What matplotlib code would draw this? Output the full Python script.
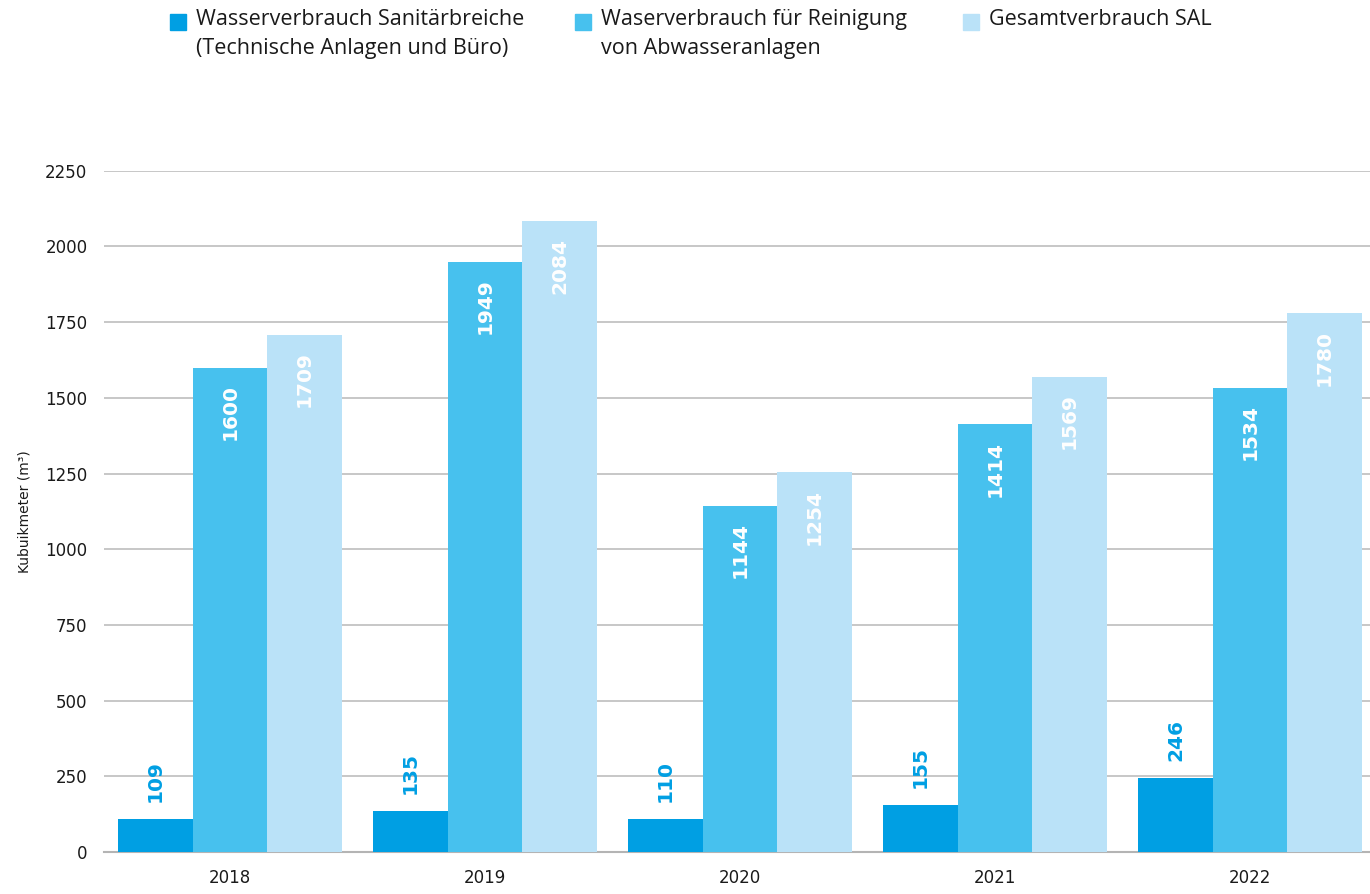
import numpy as np
import matplotlib.pyplot as plt
from matplotlib.patches import Rectangle

# Daten
jahre = ['2018', '2019', '2020', '2021', '2022']
sanitaer = [109, 135, 110, 155, 246]
reinigung = [1600, 1949, 1144, 1414, 1534]
gesamt = [1709, 2084, 1254, 1569, 1780]

serien_namen = ['Wasserverbrauch Sanitärbreiche\n(Technische Anlagen und Büro)',
                'Waserverbrauch für Reinigung\nvon Abwasseranlagen',
                'Gesamtverbrauch SAL']
farben = ['#009FE3', '#47C1EE', '#BAE2F8']

plt.rcParams['font.family'] = ['DejaVu Sans']

fig = plt.figure(figsize=(13.7, 8.94), dpi=100)
ax = fig.add_axes([0.076, 0.047, 0.924, 0.762])

x = np.arange(len(jahre))
breite = 0.292

for i, (werte, farbe) in enumerate(zip([sanitaer, reinigung, gesamt], farben)):
    pos = x + (i - 1) * breite
    ax.bar(pos, werte, width=breite, color=farbe, zorder=3)
    for p, w in zip(pos, werte):
        if i == 0:
            ax.annotate(str(w), (p, w), xytext=(0, 12), textcoords='offset points',
                        rotation=90, ha='center', va='bottom', color=farben[0],
                        fontsize=14.5, fontweight='bold', zorder=4)
        else:
            ax.annotate(str(w), (p, w), xytext=(0, -12), textcoords='offset points',
                        rotation=90, ha='center', va='top', color='white',
                        fontsize=14.5, fontweight='bold', zorder=4)

ax.set_ylim(0, 2250)
ax.set_xlim(-0.494, 4.47)
ax.set_yticks(range(0, 2251, 250))
ax.set_xticks(x)
ax.set_xticklabels(jahre)
ax.tick_params(axis='both', length=0, labelsize=12, colors='#1a1a1a')
ax.tick_params(axis='x', pad=12)
ax.tick_params(axis='y', pad=12)
ax.grid(axis='y', color='#b8b8b8', linewidth=1.1, zorder=0)
for s in ['top', 'right', 'left']:
    ax.spines[s].set_visible(False)
ax.spines['bottom'].set_color('#b4b4b4')
ax.spines['bottom'].set_linewidth(1.5)
ax.set_ylabel('Kubuikmeter (m³)', fontsize=10, labelpad=10, color='#1a1a1a')

# Legende oben
leg_x = [0.124, 0.420, 0.703]
for lx, name, farbe in zip(leg_x, serien_namen, farben):
    fig.add_artist(Rectangle((lx, 0.966), 0.0117, 0.018, transform=fig.transFigure,
                             color=farbe))
    fig.text(lx + 0.019, 0.990, name, ha='left', va='top', fontsize=15.5,
             family=['Open Sans', 'DejaVu Sans'], color='#1a1a1a', linespacing=1.5)

fig.savefig('out.png', dpi=100)
